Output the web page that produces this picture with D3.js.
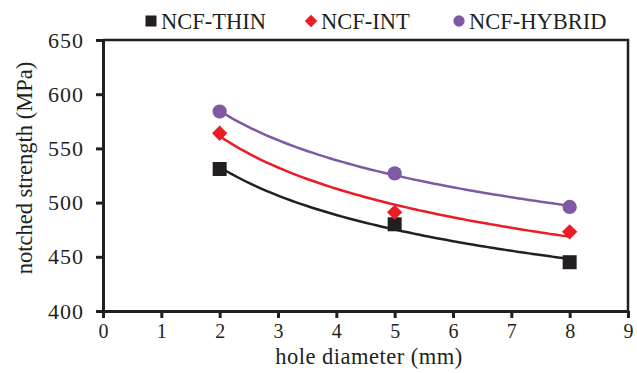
<!DOCTYPE html>
<html>
<head>
<meta charset="utf-8">
<script src="https://cdn.jsdelivr.net/npm/d3@7"></script>
<style>
  body { margin: 0; background: #fff; }
</style>
</head>
<body>
<svg id="chart" width="637" height="373"></svg>
<script>
const holeDiameters = [2, 5, 8];
const seriesNames = ['NCF-THIN', 'NCF-INT', 'NCF-HYBRID'];
const thinValues = [531, 480, 445];
const intValues = [564, 491, 473];
const hybridValues = [584, 527, 496];
const xTicks = [0, 1, 2, 3, 4, 5, 6, 7, 8, 9];
const yTicks = [400, 450, 500, 550, 600, 650];

const FONT = '"Liberation Serif", "Times New Roman", serif';
const INK = '#231f20';
const COLORS = { 'NCF-THIN': INK, 'NCF-INT': '#ed1c24', 'NCF-HYBRID': '#8059a5' };
const SHAPES = { 'NCF-THIN': d3.symbolSquare, 'NCF-INT': d3.symbolDiamond2, 'NCF-HYBRID': d3.symbolCircle };
const SIZES = { 'NCF-THIN': 196, 'NCF-INT': 150, 'NCF-HYBRID': 160 };

const series = seriesNames.map((name, i) => ({
  name,
  values: [thinValues, intValues, hybridValues][i],
}));

const svg = d3.select('#chart').attr('font-family', FONT);
const margin = { top: 40, right: 6, bottom: 62, left: 103 };
const W = 637, H = 373;
const innerW = W - margin.left - margin.right;
const innerH = H - margin.top - margin.bottom;

const x = d3.scaleLinear().domain([0, 9]).range([0, innerW - 3]);
const y = d3.scaleLinear().domain([400, 650]).range([innerH, 0]);

const g = svg.append('g').attr('transform', `translate(${margin.left},${margin.top})`);

// frame (top + right)
g.append('path')
  .attr('d', `M0,0H${x(9)}V${innerH}`)
  .attr('fill', 'none')
  .attr('stroke', INK)
  .attr('stroke-width', 2.5);

g.append('g')
  .attr('transform', `translate(0,${innerH})`)
  .call(d3.axisBottom(x).tickValues(xTicks).tickSize(7).tickPadding(6).tickSizeOuter(0))
  .attr('font-family', FONT)
  .call(a => a.selectAll('path,line').attr('stroke', INK).attr('stroke-width', 3))
  .call(a => a.selectAll('text').attr('font-size', 20).attr('fill', INK));

g.append('g')
  .call(d3.axisLeft(y).tickValues(yTicks).tickSize(7).tickPadding(12).tickSizeOuter(0))
  .attr('font-family', FONT)
  .call(a => a.selectAll('path,line').attr('stroke', INK).attr('stroke-width', 3))
  .call(a => a.selectAll('text').attr('font-size', 22).attr('letter-spacing', 1).attr('fill', INK));

// power trendline fit y = a * x^b
function powerFit(xs, ys) {
  const lx = xs.map(Math.log), ly = ys.map(Math.log);
  const mx = d3.mean(lx), my = d3.mean(ly);
  const b = d3.sum(lx, (v, i) => (v - mx) * (ly[i] - my)) / d3.sum(lx, v => (v - mx) ** 2);
  const a = Math.exp(my - b * mx);
  return t => a * Math.pow(t, b);
}

const line = d3.line().x(d => x(d[0])).y(d => y(d[1])).curve(d3.curveBasis);
const samples = d3.range(2, 8.001, 0.1);

series.forEach(s => {
  const f = powerFit(holeDiameters, s.values);
  g.append('path')
    .datum(samples.map(t => [t, f(t)]))
    .attr('d', line)
    .attr('fill', 'none')
    .attr('stroke', COLORS[s.name])
    .attr('stroke-width', 2.5);
});

series.forEach(s => {
  g.selectAll(null).data(s.values).join('path')
    .attr('transform', (d, i) => `translate(${x(holeDiameters[i])},${y(d)})`)
    .attr('d', d3.symbol(SHAPES[s.name], SIZES[s.name]))
    .attr('fill', COLORS[s.name]);
});

// axis titles
svg.append('text')
  .attr('x', 369).attr('y', 364)
  .attr('text-anchor', 'middle')
  .attr('font-size', 22.5)
  .attr('letter-spacing', 0.5)
  .attr('fill', INK)
  .text('hole diameter (mm)');

svg.append('text')
  .attr('transform', 'translate(32,168) rotate(-90)')
  .attr('text-anchor', 'middle')
  .attr('font-size', 22.5)
  .attr('fill', INK)
  .text('notched strength (MPa)');

// legend
const legendX = [151, 311, 459];
const legend = svg.append('g');
series.forEach((s, i) => {
  const item = legend.append('g').attr('transform', `translate(${legendX[i]},21)`);
  item.append('path')
    .attr('d', d3.symbol(SHAPES[s.name], s.name === 'NCF-THIN' ? 121 : 100))
    .attr('fill', COLORS[s.name]);
  item.append('text')
    .attr('x', 10).attr('y', 7.5)
    .attr('font-size', 22.5)
    .attr('fill', INK)
    .text(s.name);
});
</script>
</body>
</html>
